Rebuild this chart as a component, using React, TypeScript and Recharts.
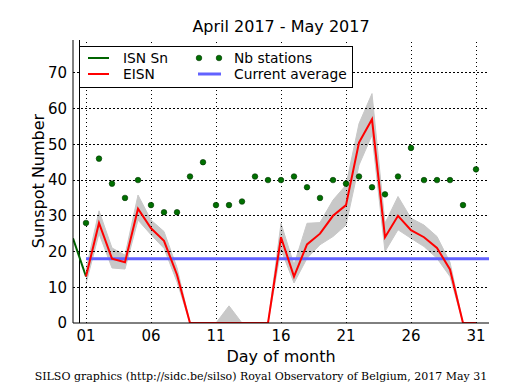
import React from 'react';
import { ComposedChart, Line, Area, XAxis, YAxis, ReferenceLine } from 'recharts';

const days = [1, 2, 3, 4, 5, 6, 7, 8, 9, 10, 11, 12, 13, 14, 15, 16, 17, 18, 19, 20, 21, 22, 23, 24, 25, 26, 27, 28, 29, 30, 31];
const eisn = [13, 28, 18, 17, 32, 26.5, 23, 13.5, 0, 0, 0, 0, 0, 0, 0, 24, 13, 22, 25, 30, 33, 50.5, 57, 24, 30, 26, 24, 21, 15, 0, 0];
const bandLow = [11, 25, 15.4, 15.1, 28.8, 24.7, 20.9, 11.5, 0, 0, 0, 0, 0, 0, 0, 20.5, 11.2, 18.1, 21.9, 24.2, 27.4, 44.2, 52.6, 20, 26.1, 23.7, 21.4, 18.1, 13, 0, 0];
const bandHigh = [15, 31.4, 21, 19, 35.8, 28.8, 25.6, 15.5, 0, 0, 0, 4.8, 0, 0, 0, 27.9, 16.3, 27.9, 28.1, 34.4, 38.6, 55.8, 64.2, 27.9, 35.4, 29.3, 27.4, 24.2, 17, 0, 0];
const stations = [28, 46, 39, 35, 40, 33, 31, 31, 41, 45, 33, 33, 34, 41, 40, 40, 41, 38, 35, 40, 39, 41, 38, 36, 41, 49, 40, 40, 40, 33, 43];
const snDays = [0, 1];
const snValues = [23.7, 13];
const currentAverage = 18;
const avgStart = 1;
const avgEnd = 32;
const xMajorTicks = [1, 6, 11, 16, 21, 26, 31];
const xMinorTicks = [1, 2, 3, 4, 5, 6, 7, 8, 9, 10, 11, 12, 13, 14, 15, 16, 17, 18, 19, 20, 21, 22, 23, 24, 25, 26, 27, 28, 29, 30, 31];
const yMajorTicks = [0, 10, 20, 30, 40, 50, 60, 70];
const yGridTicks = [10, 20, 30, 40, 50, 60, 70];
const yMinorTicks = [2, 4, 6, 8, 12, 14, 16, 18, 22, 24, 26, 28, 32, 34, 36, 38, 42, 44, 46, 48, 52, 54, 56, 58, 62, 64, 66, 68, 72, 74, 76, 78];

const xs = [0, ...days, 32];
const data = xs.map((d) => {
  const row: any = { day: d };
  const i = days.indexOf(d);
  if (i >= 0) {
    row.eisn = eisn[i];
    row.band = [bandLow[i], bandHigh[i]];
    row.stations = stations[i];
  }
  const s = snDays.indexOf(d);
  if (s >= 0) row.sn = snValues[s];
  if (d >= avgStart && d <= avgEnd) row.avg = currentAverage;
  yGridTicks.forEach((g) => {
    row['grid' + g] = g;
  });
  return row;
});

const FONT = 'DejaVu Sans';
const X_DOMAIN: [number, number] = [0, 32];
const Y_DOMAIN: [number, number] = [0, 79.2];
const emptyTick = () => <g />;
const LEG = 13.8;
const GRID_DASH = '1 3';
const HGRID_DASH = '2 2';
const CHART_W = 515;
const CHART_H = 390;
const MARGIN = { top: 40, right: 26, bottom: 37, left: 0 };
const Y_AXIS_W = 73;

export default function App() {
  return (
    <div style={{ position: 'absolute', left: 0, top: 0, width: CHART_W, height: CHART_H, background: '#fff' }}>
      <ComposedChart width={CHART_W} height={CHART_H} data={data} margin={MARGIN}>
        <XAxis
          xAxisId="x"
          dataKey="day"
          type="number"
          domain={X_DOMAIN}
          allowDataOverflow
          ticks={xMajorTicks}
          interval={0}
          tickFormatter={(v: number) => String(v).padStart(2, '0')}
          tickLine={false}
          tickSize={6}
          tickMargin={1}
          height={30}
          axisLine={{ stroke: '#000', strokeWidth: 1 }}
          tick={{ fill: '#000', fontSize: 15, fontFamily: FONT }}
        />
        <XAxis xAxisId="xbMaj" dataKey="day" type="number" domain={X_DOMAIN} allowDataOverflow ticks={xMajorTicks} interval={0} orientation="bottom" mirror height={0} tickSize={5} axisLine={false} tickLine={{ stroke: '#000', shapeRendering: 'crispEdges' }} tick={emptyTick} />
        <XAxis xAxisId="xbMin" dataKey="day" type="number" domain={X_DOMAIN} allowDataOverflow ticks={xMinorTicks} interval={0} orientation="bottom" mirror height={0} tickSize={3} axisLine={false} tickLine={{ stroke: '#000', shapeRendering: 'crispEdges' }} tick={emptyTick} />
        <XAxis xAxisId="xtMaj" dataKey="day" type="number" domain={X_DOMAIN} allowDataOverflow ticks={xMajorTicks} interval={0} orientation="top" mirror height={0} tickSize={5} axisLine={{ stroke: '#000' }} tickLine={{ stroke: '#000', shapeRendering: 'crispEdges' }} tick={emptyTick} />
        <XAxis xAxisId="xtMin" dataKey="day" type="number" domain={X_DOMAIN} allowDataOverflow ticks={xMinorTicks} interval={0} orientation="top" mirror height={0} tickSize={3} axisLine={false} tickLine={{ stroke: '#000', shapeRendering: 'crispEdges' }} tick={emptyTick} />
        <YAxis
          yAxisId="y"
          type="number"
          domain={Y_DOMAIN}
          allowDataOverflow
          ticks={yMajorTicks}
          interval={0}
          tickLine={false}
          tickSize={6}
          tickMargin={0}
          width={Y_AXIS_W}
          axisLine={{ stroke: '#000', strokeWidth: 1 }}
          tick={{ fill: '#000', fontSize: 15, fontFamily: FONT }}
        />
        <YAxis yAxisId="ylMaj" type="number" domain={Y_DOMAIN} allowDataOverflow ticks={yMajorTicks} interval={0} orientation="left" mirror width={0} tickSize={5} axisLine={false} tickLine={{ stroke: '#000', shapeRendering: 'crispEdges' }} tick={emptyTick} />
        <YAxis yAxisId="ylMin" type="number" domain={Y_DOMAIN} allowDataOverflow ticks={yMinorTicks} interval={0} orientation="left" mirror width={0} tickSize={3} axisLine={false} tickLine={{ stroke: '#000', shapeRendering: 'crispEdges' }} tick={emptyTick} />
        <YAxis yAxisId="yrMaj" type="number" domain={Y_DOMAIN} allowDataOverflow ticks={yMajorTicks} interval={0} orientation="right" mirror width={0} tickSize={5} axisLine={{ stroke: '#000' }} tickLine={{ stroke: '#000', shapeRendering: 'crispEdges' }} tick={emptyTick} />
        <YAxis yAxisId="yrMin" type="number" domain={Y_DOMAIN} allowDataOverflow ticks={yMinorTicks} interval={0} orientation="right" mirror width={0} tickSize={3} axisLine={false} tickLine={{ stroke: '#000', shapeRendering: 'crispEdges' }} tick={emptyTick} />

        <Area
          xAxisId="x"
          yAxisId="y"
          dataKey="band"
          type="linear"
          stroke="#c8c8c8"
          strokeWidth={1}
          fill="#c8c8c8"
          fillOpacity={1}
          isAnimationActive={false}
          connectNulls={false}
          dot={false}
          activeDot={false}
        />

        {yGridTicks.map((g) => (
          <Line
            key={'grid' + g}
            xAxisId="x"
            yAxisId="y"
            dataKey={'grid' + g}
            type="linear"
            stroke="#000"
            strokeWidth={1}
            strokeDasharray={HGRID_DASH}
            shapeRendering="crispEdges"
            dot={false}
            activeDot={false}
            isAnimationActive={false}
          />
        ))}
        {xMajorTicks.map((t) => (
          <ReferenceLine key={'gx' + t} xAxisId="x" yAxisId="y" x={t} stroke="#000" strokeWidth={1} strokeDasharray={GRID_DASH} shapeRendering="crispEdges" />
        ))}
        <ReferenceLine xAxisId="x" yAxisId="y" x={0.5} stroke="#000" strokeWidth={1} shapeRendering="crispEdges" />

        <Line xAxisId="x" yAxisId="y" dataKey="sn" type="linear" stroke="#006400" strokeWidth={2} dot={false} activeDot={false} isAnimationActive={false} />
        <Line xAxisId="x" yAxisId="y" dataKey="avg" type="linear" stroke="#6262ff" strokeWidth={3} dot={false} activeDot={false} isAnimationActive={false} />
        <Line xAxisId="x" yAxisId="y" dataKey="eisn" type="linear" stroke="#ff0000" strokeWidth={2} dot={false} activeDot={false} isAnimationActive={false} />
        <Line
          xAxisId="x"
          yAxisId="y"
          dataKey="stations"
          type="linear"
          stroke="none"
          dot={{ r: 2.8, fill: '#007000', stroke: '#003300', strokeWidth: 0.6 }}
          activeDot={false}
          isAnimationActive={false}
        />
      </ComposedChart>
      <svg
        width={CHART_W}
        height={CHART_H}
        style={{ position: 'absolute', left: 0, top: 0, pointerEvents: 'none' }}
      >
        <text x={281} y={31.5} textAnchor="middle" fontSize={16} fontFamily={FONT} fill="#000">April 2017 - May 2017</text>
        <text transform="translate(44,181) rotate(-90)" textAnchor="middle" fontSize={16} fontFamily={FONT} fill="#000">Sunspot Number</text>
        <text x={281} y={362} textAnchor="middle" fontSize={16} fontFamily={FONT} fill="#000">Day of month</text>
        <text x={261} y={380} textAnchor="middle" fontSize={11} fontFamily="DejaVu Serif" fill="#000">SILSO graphics (http://sidc.be/silso) Royal Observatory of Belgium, 2017 May 31</text>

        <rect x={79.5} y={46.5} width={273} height={41} fill="#fff" stroke="#000" strokeWidth={1} />
        <line x1={88} y1={58} x2={109} y2={58} stroke="#006400" strokeWidth={2} />
        <text x={123} y={63} fontSize={LEG} fontFamily={FONT} fill="#000">ISN Sn</text>
        <line x1={88} y1={74} x2={109} y2={74} stroke="#ff0000" strokeWidth={2} />
        <text x={123} y={79} fontSize={LEG} fontFamily={FONT} fill="#000">EISN</text>
        <circle cx={199} cy={58} r={2.8} fill="#007000" stroke="#003300" strokeWidth={0.6} />
        <circle cx={219} cy={58} r={2.8} fill="#007000" stroke="#003300" strokeWidth={0.6} />
        <text x={234} y={63} fontSize={LEG} fontFamily={FONT} fill="#000">Nb stations</text>
        <line x1={198} y1={74} x2={221} y2={74} stroke="#6262ff" strokeWidth={3} />
        <text x={234} y={79} fontSize={LEG} fontFamily={FONT} fill="#000">Current average</text>
      </svg>
    </div>
  );
}
